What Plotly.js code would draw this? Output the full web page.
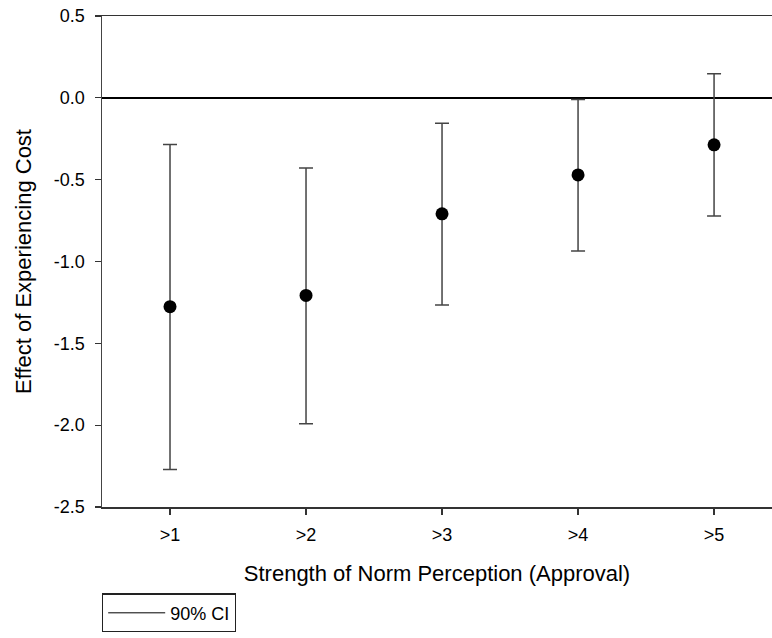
<!DOCTYPE html>
<html>
<head>
<meta charset="utf-8">
<script src="https://cdn.plot.ly/plotly-3.0.1.min.js"></script>
<style>
html,body{margin:0;padding:0;background:#fff;}
#chart{width:772px;height:638px;}
</style>
</head>
<body>
<div id="chart"></div>
<script>
// Data
const categories = ['>1', '>2', '>3', '>4', '>5'];
const effect = [-1.276, -1.207, -0.709, -0.471, -0.287];
const ciUpper = [-0.285, -0.428, -0.155, -0.010, 0.147];
const ciLower = [-2.271, -1.991, -1.266, -0.936, -0.722];
const yTickVals = [0.5, 0.0, -0.5, -1.0, -1.5, -2.0, -2.5];
const yTickText = ['0.5', '0.0', '-0.5', '-1.0', '-1.5', '-2.0', '-2.5'];
const legendLabel = '90% CI';

const errPlus = effect.map((v, i) => ciUpper[i] - v);
const errMinus = effect.map((v, i) => v - ciLower[i]);

const FONT = 'Liberation Sans, Arial, sans-serif';

const traces = [
  {
    type: 'scatter',
    mode: 'markers',
    x: categories,
    y: effect,
    showlegend: false,
    marker: {color: '#000', size: 13, line: {width: 0}},
    error_y: {
      type: 'data',
      symmetric: false,
      array: errPlus,
      arrayminus: errMinus,
      color: '#444',
      thickness: 1.5,
      width: 7
    },
    cliponaxis: false
  },
  {
    // legend-only entry for the confidence-interval line (no visible mark)
    type: 'scatter',
    mode: 'lines',
    name: legendLabel,
    x: [null],
    y: [null],
    showlegend: true,
    line: {color: '#000', width: 1}
  }
];

const layout = {
  width: 772,
  height: 638,
  paper_bgcolor: '#fff',
  plot_bgcolor: '#fff',
  font: {family: FONT, size: 18, color: '#000'},
  margin: {l: 102, r: 0, t: 16, b: 131, pad: 0},
  showlegend: true,
  legend: {
    x: 0, xanchor: 'left',
    y: -0.176, yanchor: 'top',
    bordercolor: '#222', borderwidth: 1.2,
    bgcolor: '#fff',
    font: {family: FONT, size: 18, color: '#000'},
    itemwidth: 57
  },
  xaxis: {
    type: 'category',
    range: [-0.5, 4.426],
    showgrid: false,
    zeroline: false,
    showline: true,
    mirror: true,
    linecolor: '#333',
    linewidth: 1.5,
    ticks: 'outside',
    ticklen: 6,
    tickwidth: 1.3,
    tickcolor: '#333',
    ticklabelstandoff: 5,
    tickfont: {family: FONT, size: 18, color: '#000'},
    title: {text: 'Strength of Norm Perception (Approval)', font: {family: FONT, size: 22, color: '#000'}, standoff: 21}
  },
  yaxis: {
    range: [-2.5, 0.5],
    tickvals: yTickVals,
    ticktext: yTickText,
    showgrid: false,
    zeroline: true,
    zerolinecolor: '#000',
    zerolinewidth: 1.5,
    showline: true,
    linecolor: '#444',
    linewidth: 1.5,
    ticks: 'outside',
    ticklen: 6,
    tickwidth: 1.3,
    tickcolor: '#333',
    tickfont: {family: FONT, size: 18, color: '#000'},
    ticklabelstandoff: 6,
    title: {text: 'Effect of Experiencing Cost', font: {family: FONT, size: 22, color: '#000'}, standoff: 16}
  }
};

Plotly.newPlot('chart', traces, layout, {displayModeBar: false, staticPlot: true});
</script>
</body>
</html>
